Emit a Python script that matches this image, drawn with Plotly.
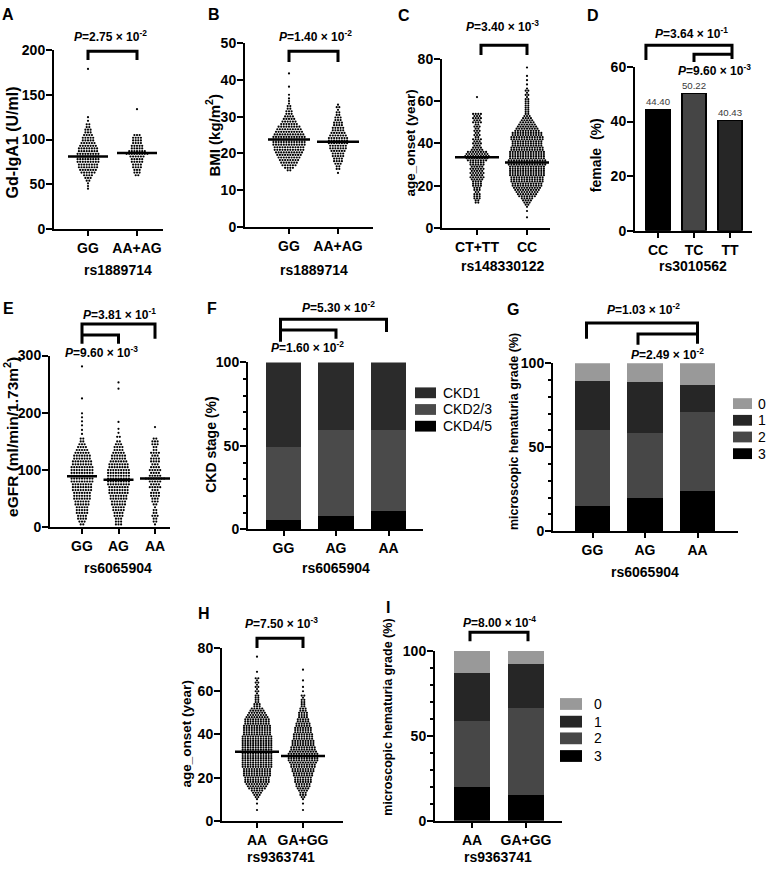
import plotly.graph_objects as go

# ---------------- DATA ----------------
A_categories = ["GG", "AA+AG"]
A_GG_levels = [179, 125, 121, 117, 114, 111, 108, 105, 102, 99, 96, 93, 90, 87, 84, 81, 78, 75, 72, 69, 66, 63, 60, 57, 54, 51, 48, 45]
A_GG_counts = [1, 1, 1, 2, 2, 3, 3, 4, 5, 5, 6, 7, 8, 8, 9, 9, 9, 9, 8, 8, 7, 6, 4, 3, 2, 1, 1, 1]
A_AG_levels = [134, 105, 102, 99, 96, 93, 90, 87, 84, 81, 78, 75, 72, 69, 66, 63, 60]
A_AG_counts = [1, 3, 4, 4, 4, 5, 5, 7, 9, 6, 5, 5, 4, 4, 3, 3, 2]
A_medians = [81, 85]

B_categories = ["GG", "AA+AG"]
B_GG_levels = [41.8, 38.2, 36.0, 35.0, 34.3, 33.6, 32.9, 32.2, 31.5, 30.8, 30.1, 29.4, 28.7, 28.0, 27.3, 26.6, 25.9, 25.2, 24.5, 23.8, 23.1, 22.4, 21.7, 21.0, 20.3, 19.6, 18.9, 18.2, 17.5, 16.8, 16.1, 15.4]
B_GG_counts = [1, 1, 1, 1, 1, 1, 2, 2, 3, 3, 4, 5, 6, 7, 9, 10, 11, 12, 13, 13, 13, 13, 12, 12, 11, 10, 9, 8, 7, 6, 4, 2]
B_AG_levels = [33.3, 32.6, 31.9, 31.2, 30.5, 29.8, 29.1, 28.4, 27.7, 27.0, 26.3, 25.6, 24.9, 24.2, 23.5, 22.8, 22.1, 21.4, 20.7, 20.0, 19.3, 18.6, 17.9, 17.2, 16.5, 15.8, 14.7]
B_AG_counts = [1, 2, 1, 2, 2, 3, 3, 4, 4, 5, 5, 6, 7, 8, 8, 8, 7, 7, 6, 5, 5, 4, 4, 3, 2, 2, 1]
B_medians = [23.8, 23.2]

C_categories = ["CT+TT", "CC"]
C_CT_levels = [62, 54, 53, 52, 51, 50, 49, 48, 47, 46, 45, 44, 43, 42, 41, 40, 39, 38, 37, 36, 35, 34, 33, 32, 31, 30, 29, 28, 27, 26, 25, 24, 23, 22, 21, 20, 19, 18, 17, 16, 15, 14, 13, 12]
C_CT_counts = [1, 4, 3, 4, 3, 4, 2, 3, 2, 3, 2, 3, 2, 4, 3, 4, 3, 4, 5, 8, 9, 10, 9, 8, 6, 6, 5, 6, 5, 6, 5, 6, 5, 4, 4, 4, 3, 3, 2, 3, 3, 3, 2, 2]
C_CC_levels = [76, 72, 70, 68, 66, 65, 64, 63, 62, 61, 60, 59, 58, 57, 56, 55, 54, 53, 52, 51, 50, 49, 48, 47, 46, 45, 44, 43, 42, 41, 40, 39, 38, 37, 36, 35, 34, 33, 32, 31, 30, 29, 28, 27, 26, 25, 24, 23, 22, 21, 20, 19, 18, 17, 16, 15, 14, 13, 12, 11, 10, 8, 5]
C_CC_counts = [1, 1, 1, 1, 1, 2, 1, 2, 1, 2, 2, 2, 2, 2, 2, 2, 2, 3, 4, 5, 6, 7, 8, 9, 10, 12, 12, 13, 13, 12, 12, 12, 13, 13, 14, 14, 14, 14, 15, 15, 15, 14, 14, 14, 14, 14, 13, 13, 13, 12, 12, 11, 10, 9, 8, 7, 5, 4, 3, 2, 1, 1, 1]
C_medians = [33.5, 31.0]

D_categories = ["CC", "TC", "TT"]
D_female = [44.40, 50.22, 40.43]

E_categories = ["GG", "AG", "AA"]
E_GG_levels = [281, 225, 199, 192, 185, 178, 170, 163, 155, 150, 145, 140, 135, 130, 125, 120, 115, 110, 105, 100, 95, 90, 85, 80, 75, 70, 65, 60, 55, 50, 45, 40, 35, 30, 25, 20, 15, 10, 5]
E_GG_counts = [1, 1, 1, 1, 1, 1, 1, 1, 2, 2, 3, 4, 5, 6, 7, 7, 8, 8, 9, 9, 9, 9, 9, 9, 8, 8, 8, 7, 7, 7, 6, 6, 5, 5, 5, 4, 4, 3, 2]
E_AG_levels = [253, 242, 184, 172, 165, 158, 150, 145, 140, 135, 130, 125, 120, 115, 110, 105, 100, 95, 90, 85, 80, 75, 70, 65, 60, 55, 50, 45, 40, 35, 30, 25, 20, 15, 10, 5]
E_AG_counts = [1, 1, 1, 1, 1, 2, 2, 3, 4, 4, 5, 6, 6, 7, 8, 8, 9, 9, 9, 9, 9, 9, 8, 8, 8, 7, 7, 6, 6, 5, 5, 4, 4, 3, 3, 3]
E_AA_levels = [175, 155, 150, 145, 140, 135, 130, 125, 120, 115, 110, 105, 100, 95, 90, 85, 80, 75, 70, 65, 60, 55, 50, 45, 40, 35, 30, 25, 20, 15, 10, 5]
E_AA_counts = [1, 2, 3, 3, 2, 2, 4, 3, 4, 4, 3, 4, 5, 4, 5, 8, 5, 4, 5, 3, 4, 4, 3, 3, 2, 1, 2, 2, 3, 2, 2, 1]
E_medians = [89, 83, 85]

F_categories = ["GG", "AG", "AA"]
F_stage_names = ["CKD4/5", "CKD2/3", "CKD1"]
F_ckd45 = [5.7, 7.8, 11.2]
F_ckd23 = [43.7, 51.4, 48.0]
F_ckd1 = [50.6, 40.8, 40.8]

G_categories = ["GG", "AG", "AA"]
G_grade_names = ["3", "2", "1", "0"]
G_grade3 = [15.0, 19.7, 23.8]
G_grade2 = [45.0, 39.0, 47.5]
G_grade1 = [29.7, 30.0, 15.6]
G_grade0 = [10.3, 11.3, 13.1]

H_categories = ["AA", "GA+GG"]
H_AA_levels = [76, 69, 66, 65, 64, 63, 62, 61, 60, 59, 58, 57, 56, 55, 54, 53, 52, 51, 50, 49, 48, 47, 46, 45, 44, 43, 42, 41, 40, 39, 38, 37, 36, 35, 34, 33, 32, 31, 30, 29, 28, 27, 26, 25, 24, 23, 22, 21, 20, 19, 18, 17, 16, 15, 14, 13, 12, 11, 10, 8, 5]
H_AA_counts = [1, 1, 2, 1, 2, 1, 2, 1, 2, 1, 2, 2, 2, 2, 3, 3, 5, 6, 7, 8, 9, 10, 10, 10, 11, 11, 11, 11, 11, 12, 12, 12, 12, 12, 12, 12, 12, 12, 12, 12, 12, 12, 12, 12, 11, 11, 11, 11, 10, 10, 10, 9, 8, 7, 5, 4, 3, 2, 1, 1, 1]
H_GG_levels = [70, 65, 62, 60, 58, 57, 56, 55, 54, 53, 52, 51, 50, 49, 48, 47, 46, 45, 44, 43, 42, 41, 40, 39, 38, 37, 36, 35, 34, 33, 32, 31, 30, 29, 28, 27, 26, 25, 24, 23, 22, 21, 20, 19, 18, 17, 16, 15, 14, 13, 12, 11, 10, 8, 5]
H_GG_counts = [1, 1, 1, 1, 2, 1, 2, 2, 2, 2, 3, 3, 4, 4, 4, 5, 5, 6, 6, 7, 7, 7, 8, 8, 8, 9, 9, 9, 10, 10, 11, 12, 12, 12, 12, 11, 10, 10, 9, 9, 8, 8, 7, 7, 7, 6, 6, 5, 4, 3, 3, 2, 1, 1, 1]
H_medians = [32, 30]

I_categories = ["AA", "GA+GG"]
I_grade3 = [19.9, 15.3]
I_grade2 = [38.6, 51.3]
I_grade1 = [28.6, 25.9]
I_grade0 = [12.9, 7.5]

P_A = ["2.75", "-2"]
P_B = ["1.40", "-2"]
P_C = ["3.40", "-3"]
P_D = [["3.64", "-1"], ["9.60", "-3"]]
P_E = [["3.81", "-1"], ["9.60", "-3"]]
P_F = [["5.30", "-2"], ["1.60", "-2"]]
P_G = [["1.03", "-2"], ["2.49", "-2"]]
P_H = ["7.50", "-3"]
P_I = ["8.00", "-4"]

# ---------------- LAYOUT ----------------
W, H = 771, 872
FONT = "Liberation Sans, Arial, Helvetica, sans-serif"


def xp(px):
    return px / W


def yp(py):
    return 1 - py / H


PANELS = {
    "A": dict(L=54, R=163, top=43, bot=225, c0=88, c1=137, yr=[0, 200], dtick=50, cats=A_categories),
    "B": dict(L=245, R=373, top=36, bot=223, c0=289, c1=338, yr=[0, 50], dtick=10, cats=B_categories),
    "C": dict(L=442, R=550, top=52, bot=224, c0=477, c1=527, yr=[0, 80], dtick=20, cats=C_categories),
    "D": dict(L=635, R=752, top=60, bot=227, c0=658, c1=730, yr=[0, 60], dtick=20, cats=D_categories),
    "E": dict(L=50, R=170, top=354, bot=529, c0=82, c1=155, yr=[0, 300], dtick=100, cats=E_categories),
    "F": dict(L=248, R=423, top=361, bot=531, c0=283.5, c1=388.5, yr=[0, 100], dtick=50, minor=10, cats=F_categories),
    "G": dict(L=553, R=738, top=362, bot=533, c0=592.5, c1=697.5, yr=[0, 100], dtick=50, minor=10, cats=G_categories),
    "H": dict(L=222, R=343, top=652, bot=828, c0=257, c1=303, yr=[0, 80], dtick=20, cats=H_categories),
    "I": dict(L=435, R=562, top=655, bot=828, c0=472, c1=526, yr=[0, 100], dtick=50, minor=10, cats=I_categories),
}

fig = go.Figure()
layout = dict(
    width=W, height=H, autosize=False, margin=dict(l=0, r=0, t=0, b=0, pad=0),
    paper_bgcolor="white", plot_bgcolor="white", showlegend=False,
    barmode="stack", font=dict(family=FONT, color="black", size=14),
)

TICKFONT = dict(family=FONT, size=14, color="black", weight="bold")

for k, (name, p) in enumerate(PANELS.items(), start=1):
    n = len(p["cats"])
    sp = (p["c1"] - p["c0"]) / (n - 1)
    p["sp"] = sp
    p["xa"] = "x" if k == 1 else f"x{k}"
    p["ya"] = "y" if k == 1 else f"y{k}"
    r0 = -(p["c0"] - p["L"]) / sp
    r1 = (n - 1) + (p["R"] - p["c1"]) / sp
    sfx = "" if k == 1 else str(k)
    layout[f"xaxis{sfx}"] = dict(
        domain=[xp(p["L"]), xp(p["R"])], range=[r0, r1], anchor=p["ya"],
        tickmode="array", tickvals=list(range(n)), ticktext=p["cats"],
        showline=True, linewidth=2, linecolor="black", ticks="outside", ticklen=5,
        tickwidth=2, tickcolor="black", showgrid=False, zeroline=False,
        tickfont=TICKFONT,
    )
    ya = dict(
        domain=[yp(p["bot"]), yp(p["top"])], range=p["yr"], anchor=p["xa"],
        tick0=0, dtick=p["dtick"], showline=True, linewidth=2, linecolor="black",
        ticks="outside", ticklen=6, tickwidth=2, tickcolor="black", showgrid=False,
        zeroline=False, tickfont=TICKFONT, ticklabelstandoff=-2,
    )
    if "minor" in p:
        ya["minor"] = dict(dtick=p["minor"], tick0=0, ticks="outside", ticklen=3,
                           tickwidth=1.5, tickcolor="black", showgrid=False)
    layout[f"yaxis{sfx}"] = ya


def cpx(name, i):
    p = PANELS[name]
    return p["c0"] + i * p["sp"]


DOT_PX = 2.6


def swarm(name, idx, levels, counts):
    p = PANELS[name]
    xs, ys = [], []
    for v, c in zip(levels, counts):
        for j in range(c):
            xs.append(idx + (j - (c - 1) / 2) * DOT_PX / p["sp"])
            ys.append(v)
    fig.add_trace(go.Scatter(
        x=xs, y=ys, mode="markers", xaxis=p["xa"], yaxis=p["ya"],
        marker=dict(size=2.2, color="black", line=dict(width=0)),
        hoverinfo="skip", cliponaxis=False))


def median_lines(name, medians, half_px):
    p = PANELS[name]
    hw = half_px / p["sp"]
    for i, m in enumerate(medians):
        fig.add_trace(go.Scatter(
            x=[i - hw, i + hw], y=[m, m], mode="lines", xaxis=p["xa"], yaxis=p["ya"],
            line=dict(color="black", width=2.5), hoverinfo="skip"))


swarm("A", 0, A_GG_levels, A_GG_counts)
swarm("A", 1, A_AG_levels, A_AG_counts)
median_lines("A", A_medians, 20)

swarm("B", 0, B_GG_levels, B_GG_counts)
swarm("B", 1, B_AG_levels, B_AG_counts)
median_lines("B", B_medians, 21)

swarm("C", 0, C_CT_levels, C_CT_counts)
swarm("C", 1, C_CC_levels, C_CC_counts)
median_lines("C", C_medians, 22)

swarm("E", 0, E_GG_levels, E_GG_counts)
swarm("E", 1, E_AG_levels, E_AG_counts)
swarm("E", 2, E_AA_levels, E_AA_counts)
median_lines("E", E_medians, 15)

swarm("H", 0, H_AA_levels, H_AA_counts)
swarm("H", 1, H_GG_levels, H_GG_counts)
median_lines("H", H_medians, 22)

BAR_W = 0.67

# D bars
pD = PANELS["D"]
fig.add_trace(go.Bar(
    x=list(range(len(D_categories))), y=D_female, width=BAR_W,
    xaxis=pD["xa"], yaxis=pD["ya"],
    marker=dict(color=["#000000", "#454545", "#262626"], line=dict(color="black", width=1.5)),
    text=[f"{v:.2f}" for v in D_female], textposition="outside", cliponaxis=False,
    textfont=dict(family=FONT, size=11, color="#3a3a3a"), hoverinfo="skip"))


def stacked(name, series, colors):
    p = PANELS[name]
    for vals, col in zip(series, colors):
        fig.add_trace(go.Bar(
            x=list(range(len(vals))), y=vals, width=BAR_W, xaxis=p["xa"], yaxis=p["ya"],
            marker=dict(color=col, line=dict(width=0)), hoverinfo="skip"))


F_colors = ["#000000", "#4a4a4a", "#2b2b2b"]
GR_colors = ["#000000", "#474747", "#262626", "#999999"]
stacked("F", [F_ckd45, F_ckd23, F_ckd1], F_colors)
stacked("G", [G_grade3, G_grade2, G_grade1, G_grade0], GR_colors)
stacked("I", [I_grade3, I_grade2, I_grade1, I_grade0], GR_colors)

# ---------------- ANNOTATIONS & SHAPES ----------------
ann = []
shapes = []


def text(t, cx, cy, size=14, bold=True, angle=0, xanchor="center"):
    ann.append(dict(text=t, x=xp(cx), y=yp(cy), xref="paper", yref="paper",
                    xanchor=xanchor, yanchor="middle", showarrow=False, textangle=angle,
                    borderpad=0,
                    font=dict(family=FONT, size=size, color="black",
                              weight="bold" if bold else "normal")))


def ptext(pv, cx, cy):
    text("<i>P</i>=" + pv[0] + " × 10<sup>" + pv[1] + "</sup>", cx, cy, size=12)


def bracket(xl, xr, ytop, ylb=None, yrb=None):
    if ylb is not None:
        path = f"M{xp(xl)},{yp(ylb)} L{xp(xl)},{yp(ytop)} "
    else:
        path = f"M{xp(xl)},{yp(ytop)} "
    path += f"L{xp(xr)},{yp(ytop)}"
    if yrb is not None:
        path += f" L{xp(xr)},{yp(yrb)}"
    shapes.append(dict(type="path", path=path, xref="paper", yref="paper",
                       line=dict(color="black", width=3)))


# panel letters
for lab, (cx, cy) in {"A": (8, 7), "B": (214, 7), "C": (404, 8), "D": (593, 8),
                      "E": (8, 306), "F": (212, 306), "G": (513, 307),
                      "H": (204, 617), "I": (388, 611)}.items():
    text(lab, cx, cy, size=16)

# y titles (text, centre x, centre y, font size)
ytitles = [
    ("Gd-IgA1 (U/ml)", 12, 137, 16), ("BMI (kg/m<sup>2</sup>)", 213, 130, 15),
    ("age_onset (year)", 410, 138, 13.5), ("female\u00a0 (%)", 596, 150, 14),
    ("eGFR (ml/min/1.73m<sup>2</sup>)", 11, 437, 15.5), ("CKD stage (%)", 211, 445, 14),
    ("microscopic hematuria grade (%)", 514, 432, 12.5), ("age_onset (year)", 186, 740, 13.5),
    ("microscopic hematuria grade (%)", 388, 723, 12.5),
]
for t, cx, cy, fs in ytitles:
    text(t, cx, cy, size=fs, angle=-90)

# x titles
xtitles = [
    ("rs1889714", 118, 267), ("rs1889714", 314, 267), ("rs148330122", 503, 263),
    ("rs3010562", 693, 263), ("rs6065904", 118, 570), ("rs6065904", 336, 570),
    ("rs6065904", 645, 575), ("rs9363741", 281, 865), ("rs9363741", 498, 865),
]
for t, cx, cy in xtitles:
    text(t, cx, cy, size=14)

# p-values
ptext(P_A, 110, 29)
ptext(P_B, 315, 29)
ptext(P_C, 502, 18)
ptext(P_D[0], 691, 25)
ptext(P_D[1], 714, 63)
ptext(P_E[0], 119, 312)
ptext(P_E[1], 101, 350)
ptext(P_F[0], 338, 305)
ptext(P_F[1], 307, 345)
ptext(P_G[0], 643, 307)
ptext(P_G[1], 667, 352)
ptext(P_H, 281, 627)
ptext(P_I, 499, 625)

# brackets
bracket(cpx("A", 0), cpx("A", 1), 44, 53, 53)
bracket(cpx("B", 0), cpx("B", 1), 44, 55, 55)
bracket(cpx("C", 0) + 4, cpx("C", 1), 38, 48, 48)
bracket(cpx("D", 0) - BAR_W / 2 * PANELS["D"]["sp"], cpx("D", 2) + 2, 38, 53, 52)
bracket(cpx("D", 1), cpx("D", 2) + 2, 47, 55, None)
bracket(cpx("E", 0), cpx("E", 2), 322, 342, 337)
bracket(cpx("E", 0), cpx("E", 1), 333, None, 342)
bracket(cpx("F", 0) - 3, cpx("F", 2) - 2, 317, 340, 330)
bracket(cpx("F", 0) - 3, cpx("F", 1), 328, None, 337)
bracket(cpx("G", 0) - 6, cpx("G", 2), 321, 337, 342)
bracket(cpx("G", 1) - 7, cpx("G", 2), 332, 343, None)
bracket(cpx("H", 0), cpx("H", 1), 642, 652, 652)
bracket(cpx("I", 0) - 2, cpx("I", 1) + 2, 636, 645, 645)


# legends (boxes + labels)
def legend(items, colors, ys, bx0, bx1, lx, bh=11):
    for t, col, cy in zip(items, colors, ys):
        shapes.append(dict(type="rect", xref="paper", yref="paper",
                           x0=xp(bx0), x1=xp(bx1), y0=yp(cy + bh / 2), y1=yp(cy - bh / 2),
                           fillcolor=col, line=dict(width=0)))
        text(t, lx, cy, size=14, bold=False, xanchor="left")


legend(F_stage_names[::-1], F_colors[::-1], [392, 409, 426], 415, 436, 442)
legend(G_grade_names[::-1], GR_colors[::-1], [403, 420, 437, 454], 733, 752, 757)
legend(G_grade_names[::-1], GR_colors[::-1], [709, 727, 744, 762], 560, 582, 593, bh=12)

layout["annotations"] = ann
layout["shapes"] = shapes
fig.update_layout(**layout)

POST = """
var s=document.createElement('style');
s.innerHTML='html,body{margin:0 !important;padding:0 !important;overflow:hidden;}';
document.head.appendChild(s);
"""

fig.write_html("out.html", config={"displayModeBar": False}, post_script=POST)
